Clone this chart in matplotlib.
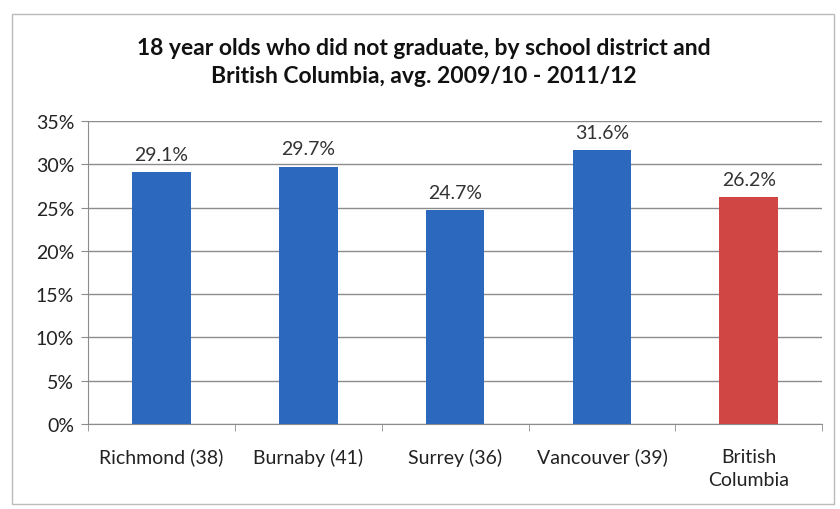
import matplotlib.pyplot as plt
from matplotlib.patches import Rectangle
import numpy as np

districts = ["Richmond (38)", "Burnaby (41)", "Surrey (36)", "Vancouver (39)", "British\nColumbia"]
pct_not_grad = [29.1, 29.7, 24.7, 31.6, 26.2]
bar_colors = ["#2C68BE", "#2C68BE", "#2C68BE", "#2C68BE", "#CF4644"]
yticks = [0, 5, 10, 15, 20, 25, 30, 35]

plt.rcParams['font.family'] = ['Lato', 'DejaVu Sans']

fig = plt.figure(figsize=(8.4, 5.1), dpi=100)
fig.patches.append(Rectangle((12 / 840, 5 / 510), 822 / 840, 490 / 510,
                             transform=fig.transFigure, fill=False,
                             edgecolor="#BBBBBB", linewidth=1.0))

ax = fig.add_axes([0.1048, 0.1667, 0.874, 0.594])
x = np.arange(len(districts))
ax.bar(x, pct_not_grad, width=0.4, color=bar_colors, zorder=3)

for xi, v in zip(x, pct_not_grad):
    ax.text(xi, v + 1.1, "%.1f%%" % v, ha="center", va="bottom",
            fontsize=14, color="#333333", zorder=4)

ax.set_xlim(-0.5, len(districts) - 0.5)
ax.set_ylim(0, 35)
ax.set_yticks(yticks)
ax.set_yticklabels(["%d%%" % t for t in yticks], fontsize=14, color="#222222")
ax.yaxis.grid(True, color="#8C8C8C", linewidth=1.0, zorder=0)

ax.set_xticks(x)
ax.set_xticklabels(districts, fontsize=14, color="#222222", linespacing=1.45)
ax.tick_params(axis="x", length=0, pad=17)
ax.set_xticks(np.arange(-0.5, len(districts)), minor=True)
ax.tick_params(axis="x", which="minor", length=5, color="#8C8C8C")
ax.tick_params(axis="y", length=5, color="#8C8C8C", pad=5)

for side in ["top", "right"]:
    ax.spines[side].set_visible(False)
ax.spines["left"].set_color("#8C8C8C")
ax.spines["bottom"].set_color("#8C8C8C")

fig.text(0.505, 0.877, "18 year olds who did not graduate, by school district and\n"
         "British Columbia, avg. 2009/10 - 2011/12",
         ha="center", va="center", fontsize=16.5, fontweight="bold",
         color="#111111", linespacing=1.4)

fig.savefig("out.png", dpi=100)
